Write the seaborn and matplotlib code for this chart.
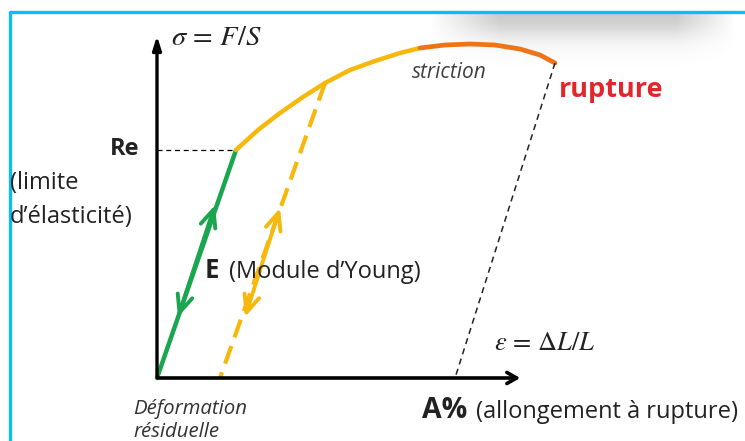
import numpy as np
import pandas as pd
import matplotlib
matplotlib.use("Agg")
import matplotlib.pyplot as plt
import seaborn as sns

sns.set_style("white")
plt.rcParams['font.family'] = ['Open Sans', 'DejaVu Sans']
plt.rcParams['mathtext.fontset'] = 'stix'

# stress-strain curve (arbitrary units)
strain_elastic = [0.0, 7.9]
stress_elastic = [0, 456]

strain_plastic = [7.9, 10.1, 12.3, 14.6, 16.8, 19.3, 21.8, 24.3, 26.3]
stress_plastic = [456, 496, 530, 562, 590, 616, 634, 650, 660]

strain_necking = [26.3, 28.8, 31.3, 33.8, 36.3, 38.3, 39.8]
stress_necking = [660, 666, 668, 666, 658, 646, 630]

# elastic unloading lines
strain_unload = [16.8, 6.3]
stress_unload = [590, 0]
strain_rupture = [39.8, 29.8]
stress_rupture = [630, 0]

# double arrows along the elastic slopes (tip up, tip down)
arrow_green = [(5.8, 346), (2.1, 122)]
arrow_yellow = [(12.3, 340), (8.8, 122)]

GREEN = '#19a64e'
YELLOW = '#f6b80c'
ORANGE = '#ee7418'
RED = '#e3262b'
BLUE = '#0cbcf5'

W, H = 745, 441
fig = plt.figure(figsize=(W / 100, H / 100), dpi=100)

# background layer in pixel units: frame and shadow
bg = fig.add_axes([0, 0, 1, 1])
bg.set_xlim(0, W)
bg.set_ylim(H, 0)
bg.axis('off')

xx, yy = np.meshgrid(np.arange(W), np.arange(H))
fx = np.clip((xx - 430) / 70, 0, 1) * np.clip((735 - xx) / 60, 0, 1)
fy = np.where(yy > 12, np.exp(-((yy - 14) / 24.0) ** 2), 0)
shade = np.zeros((H, W, 4))
shade[..., :3] = 0.5
shade[..., 3] = 0.4 * fx * fy
bg.imshow(shade, extent=(0, W, H, 0), zorder=0)
bg.plot([10, 10, W], [H, 11.5, 11.5], color=BLUE, lw=2.4, solid_capstyle='butt', zorder=1)

# main axes: origin sits at pixel (157, 378)
ax = fig.add_axes([0, 0, 1, 1])
ax.patch.set_alpha(0)
ax.set_xlim(-15.7, 58.8)
ax.set_ylim(-126, 756)
ax.axis('off')

# coordinate axes with arrows
ax.annotate('', xy=(36.6, 0), xytext=(-0.2, 0),
            arrowprops=dict(arrowstyle='->, head_length=0.7, head_width=0.4', lw=2.6, color='black'))
ax.annotate('', xy=(0, 690), xytext=(0, -4),
            arrowprops=dict(arrowstyle='-|>, head_length=0.8, head_width=0.25', lw=2.4, color='black'))

# Re level
ax.plot([0, strain_elastic[1]], [stress_elastic[1]] * 2, color='black', lw=0.9,
        linestyle=(0, (4, 3)))

df_el = pd.DataFrame({'strain': strain_elastic, 'stress': stress_elastic})
df_pl = pd.DataFrame({'strain': strain_plastic, 'stress': stress_plastic})
df_nk = pd.DataFrame({'strain': strain_necking, 'stress': stress_necking})

sns.lineplot(data=df_el, x='strain', y='stress', ax=ax, color=GREEN, lw=3.2,
             sort=False, estimator=None, solid_capstyle='round')
sns.lineplot(data=df_pl, x='strain', y='stress', ax=ax, color=YELLOW, lw=3.2,
             sort=False, estimator=None, solid_capstyle='round')
sns.lineplot(data=df_nk, x='strain', y='stress', ax=ax, color=ORANGE, lw=3.4,
             sort=False, estimator=None, solid_capstyle='round')

ax.plot(strain_unload, stress_unload, color=YELLOW, lw=3.0, linestyle=(0, (4.5, 2.2)))
ax.plot(strain_rupture, stress_rupture, color='#222222', lw=1.1, linestyle=(0, (4, 3)))

for (up, down), col in [(arrow_green, GREEN), (arrow_yellow, YELLOW)]:
    ax.annotate('', xy=up, xytext=down,
                arrowprops=dict(arrowstyle='<->, head_length=1.25, head_width=0.55',
                                lw=2.8, color=col, shrinkA=0, shrinkB=0))

# labels, placed in figure pixels
def px(x, y):
    return x / W, 1 - y / H

fs = 17
txt = '#222222'
fig.text(*px(171, 38), r'$\sigma\,=\,F/S$', fontsize=20.5, va='center', ha='left', color=txt)
fig.text(*px(412, 72), 'striction', fontsize=15, style='italic', color='#404040', va='center')
fig.text(*px(559, 90), 'rupture', fontsize=19.5, fontweight='bold', color=RED, va='center')
fig.text(*px(139, 149), 'Re', fontsize=17, fontweight='bold', va='center', ha='right', color=txt)
fig.text(*px(10, 183), '(limite', fontsize=fs, va='center', color=txt)
fig.text(*px(10, 217), 'd’élasticité)', fontsize=fs, va='center', color=txt)
fig.text(*px(205, 271), 'E', fontsize=18.5, fontweight='bold', va='center', color=txt)
fig.text(*px(229, 272), '(Module d’Young)', fontsize=fs, va='center', color=txt)
fig.text(*px(494, 343), r'$\varepsilon\,=\,\Delta L/L$', fontsize=19, va='center', color=txt)
fig.text(*px(422, 411), 'A%', fontsize=20.5, fontweight='bold', va='center', color=txt)
fig.text(*px(476, 412), '(allongement à rupture)', fontsize=fs, va='center', color=txt)
fig.text(*px(133, 409), 'Déformation', fontsize=14.7, style='italic', va='center', color='#333333')
fig.text(*px(133, 432), 'résiduelle', fontsize=14.7, style='italic', va='center', color='#333333')

fig.savefig('out.png', dpi=100)
plt.close(fig)
